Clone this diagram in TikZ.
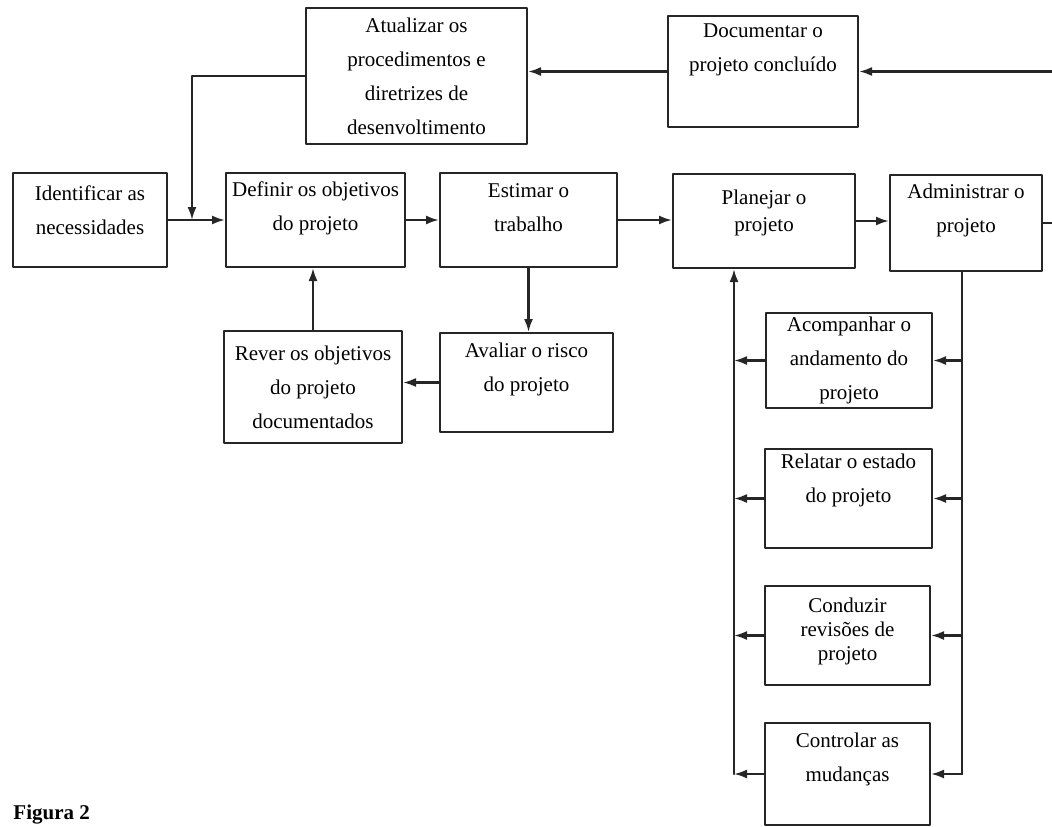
\documentclass[tikz,border=0pt]{standalone}
\usepackage{fontspec}
\setmainfont{Liberation Serif}
\usetikzlibrary{arrows.meta}
\tikzset{
  box/.style={draw, line width=2pt, align=center, inner sep=2pt},
}
\begin{document}
\begin{tikzpicture}[x=1pt, y=-1pt, font=\fontsize{21}{34}\selectfont, line join=round, line cap=round, line width=2.2pt, draw=black!85, >={Latex[length=13pt,width=9pt]}]
\useasboundingbox (0,0) rectangle (1052,827);
\def\xl{734} \def\xr{962} \def\yb{774}
% linha de cima
\node[box, minimum width=221, minimum height=136] (atu) at (416.5,76) {Atualizar os\\procedimentos e\\diretrizes de\\desenvoltimento};
\node[box, minimum width=190, minimum height=111, text depth=48pt] (doc) at (763,71.5) {Documentar o\\projeto concluído};
% linha do meio
\node[box, minimum width=154, minimum height=94, text depth=19pt] (ide) at (90,220) {Identificar as\\necessidades};
\node[box, minimum width=179, minimum height=94, text depth=27pt] (def) at (315.5,220) {Definir os objetivos\\do projeto};
\node[box, minimum width=177, minimum height=94, text depth=24pt] (est) at (528.5,220) {Estimar o\\trabalho};
\node[box, minimum width=182, minimum height=94, text depth=20pt, font=\fontsize{21}{27}\selectfont] (pla) at (764,221) {Planejar o\\projeto};
\node[box, minimum width=152, minimum height=96, text depth=30pt] (adm) at (966,223) {Administrar o\\projeto};
% revisao
\node[box, minimum width=178, minimum height=112] (rev) at (313,387) {Rever os objetivos\\do projeto\\documentados};
\node[box, minimum width=173, minimum height=99, text depth=31pt] (ava) at (526.5,382.5) {Avaliar o risco\\do projeto};
% atividades de administracao
\node[box, minimum width=166, minimum height=95] (aco) at (849,360.5) {Acompanhar o\\andamento do\\projeto};
\node[box, minimum width=167, minimum height=99, text depth=41pt] (rel) at (848.5,498.5) {Relatar o estado\\do projeto};
\node[box, minimum width=165, minimum height=99, text depth=13pt, font=\fontsize{21}{24}\selectfont] (con) at (847.5,635.5) {Conduzir\\revisões de\\projeto};
\node[box, minimum width=165, minimum height=102, text depth=34pt] (ctr) at (847.5,774) {Controlar as\\mudanças};
\node[anchor=base west, font=\fontsize{21}{25}\selectfont\bfseries] (fig) at (9,819) {Figura 2};
% ligacoes
\coordinate (jn) at (192,220);
\coordinate (rt) at (1062,223);
\coordinate (bl) at (\xl,\yb);
\coordinate (br) at (\xr,\yb);
\draw[->] (ide.east) -- (def.west);
\draw[->] (atu.west) -| (jn);
\draw[->] (def.east) -- (est.west);
\draw[->] (est.east) -- (est.east -| pla.west);
\draw[->] (pla.east) -- (pla.east -| adm.west);
\draw[->] (adm.east) -- (rt) |- (doc.east);
\draw[->] (doc.west) -- (doc.west -| atu.east);
\draw[->] (est.south) -- (est.south |- ava.north);
\draw[->] (ava.west) -- (ava.west -| rev.east);
\draw[->] (rev.north) -- (rev.north |- def.south);
% barras laterais
\draw[->] (ctr.west) -- (bl);
\draw[->] (bl) -- (bl |- pla.south);
\foreach \n in {aco,rel,con} \draw[->] (\n.west) -- (\n.west -| bl);
\draw (br |- adm.south) -- (br);
\foreach \n in {aco,rel,con,ctr} \draw[->] (\n.east -| br) -- (\n.east);
\end{tikzpicture}
\end{document}
